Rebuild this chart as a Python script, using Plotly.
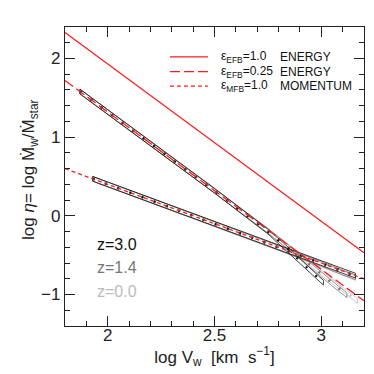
import plotly.graph_objects as go

# red model lines: log eta vs log Vw
vw_model = [1.8, 3.2]
eta_efb1 = [2.33, -0.47]       # eps_EFB=1.0 energy
eta_efb025 = [1.72, -1.08]     # eps_EFB=0.25 energy
eta_mfb1 = [0.60, -0.80]       # eps_MFB=1.0 momentum

# simulated bands (centre of band) per redshift
z_labels = ["z=3.0", "z=1.4", "z=0.0"]
z_colors = ["#111111", "#777777", "#bbbbbb"]
band_halfwidth = 0.03

energy_x = {
    "z=3.0": [1.87, 2.2, 2.5, 2.75, 2.85, 2.93, 3.01],
    "z=1.4": [1.87, 2.2, 2.5, 2.75, 2.85, 2.95, 3.05, 3.12],
    "z=0.0": [1.87, 2.2, 2.5, 2.75, 2.85, 2.95, 3.05, 3.12, 3.17],
}
energy_y = {
    "z=3.0": [1.58, 0.92, 0.32, -0.20, -0.44, -0.65, -0.85],
    "z=1.4": [1.58, 0.92, 0.32, -0.19, -0.41, -0.63, -0.86, -1.01],
    "z=0.0": [1.58, 0.92, 0.32, -0.19, -0.40, -0.61, -0.83, -0.98, -1.08],
}
momentum_x = {
    "z=3.0": [1.93, 2.5, 2.9, 3.0, 3.1, 3.16],
    "z=1.4": [1.93, 2.5, 2.9, 3.0, 3.1, 3.16],
    "z=0.0": [1.93, 2.5, 2.9, 3.0, 3.1, 3.16],
}
momentum_y = {
    "z=3.0": [0.47, -0.10, -0.50, -0.60, -0.70, -0.76],
    "z=1.4": [0.47, -0.10, -0.51, -0.61, -0.72, -0.78],
    "z=0.0": [0.47, -0.10, -0.51, -0.62, -0.73, -0.79],
}

legend_labels = ["ε<sub>EFB</sub>=1.0", "ε<sub>EFB</sub>=0.25", "ε<sub>MFB</sub>=1.0"]
legend_modes = ["ENERGY", "ENERGY", "MOMENTUM"]
legend_dash = ["solid", "10px,4px", "4px,3px"]

FONT = "Liberation Sans, Arial, sans-serif"
RED = "#ff1a1a"

fig = go.Figure()


def add_band(x, y, color):
    up = [v + band_halfwidth for v in y]
    lo = [v - band_halfwidth for v in y]
    fig.add_trace(go.Scatter(
        x=x + x[::-1] + [x[0]], y=up + lo[::-1] + [up[0]],
        mode="lines", line=dict(color=color, width=0.8),
        showlegend=False, hoverinfo="skip"))
    fig.add_trace(go.Scatter(
        x=x, y=y, mode="lines",
        line=dict(color=color, width=2.2, dash="2px,11px"),
        showlegend=False, hoverinfo="skip"))


# light grey first, black on top
for z, c in list(zip(z_labels, z_colors))[::-1]:
    add_band(energy_x[z], energy_y[z], c)
    add_band(momentum_x[z], momentum_y[z], c)

for ys, dash in zip([eta_efb1, eta_efb025, eta_mfb1], legend_dash):
    fig.add_trace(go.Scatter(
        x=vw_model, y=ys, mode="lines",
        line=dict(color=RED, width=1.3, dash=dash),
        showlegend=False, hoverinfo="skip"))

# z labels
for i, (z, c) in enumerate(zip(z_labels, z_colors)):
    fig.add_annotation(x=1.94, y=-0.36 - 0.30 * i, text=z, showarrow=False,
                       xanchor="left", yanchor="middle",
                       font=dict(family=FONT, size=16, color=c))

# legend, drawn by hand to keep the two text columns aligned
for i, (lab, mode, dash) in enumerate(zip(legend_labels, legend_modes, legend_dash)):
    yy = 0.900 - 0.049 * i
    fig.add_shape(type="line", xref="paper", yref="paper",
                  x0=0.351, x1=0.478, y0=yy, y1=yy,
                  line=dict(color=RED, width=1.3, dash=dash))
    fig.add_annotation(xref="paper", yref="paper", x=0.515, y=yy, text=lab,
                       showarrow=False, xanchor="left", yanchor="middle",
                       font=dict(family=FONT, size=12, color="#111"))
    fig.add_annotation(xref="paper", yref="paper", x=0.712, y=yy, text=mode,
                       showarrow=False, xanchor="left", yanchor="middle",
                       font=dict(family=FONT, size=12, color="#111"))

# y title as a rotated annotation so it sits close to the tick labels
fig.add_annotation(xref="paper", yref="paper", x=-0.117, y=0.522,
                   text="log <i>η</i>= log Ṁ<sub>w</sub>/Ṁ<sub>star</sub>",
                   textangle=-90, showarrow=False,
                   xanchor="center", yanchor="middle",
                   font=dict(family=FONT, size=17, color="#222"))

axis_common = dict(
    showgrid=False, zeroline=False,
    showline=True, linecolor="#222", linewidth=1.2, mirror="ticks",
    ticks="inside", ticklen=10, tickwidth=1, tickcolor="#222",
    tickfont=dict(family=FONT, size=17, color="#222"),
)

fig.update_xaxes(
    range=[1.8, 3.2], tickvals=[2, 2.5, 3], ticktext=["2", "2.5", "3"],
    ticklabelstandoff=-7,
    minor=dict(dtick=0.1, tick0=0, ticklen=5, ticks="inside", tickcolor="#222"),
    title=dict(text="log V<sub>w</sub>  [km  s<sup>−1</sup>]",
               font=dict(family=FONT, size=17, color="#222"), standoff=4),
    **axis_common)
fig.update_yaxes(
    range=[-1.4, 2.4], tickvals=[-1, 0, 1, 2],
    minor=dict(dtick=0.2, tick0=0, ticklen=5, ticks="inside", tickcolor="#222"),
    **axis_common)

fig.update_layout(
    width=374, height=374,
    margin=dict(l=57, r=18, t=19, b=56),
    paper_bgcolor="white", plot_bgcolor="white",
    showlegend=False,
)

fig.write_html("out.html")
